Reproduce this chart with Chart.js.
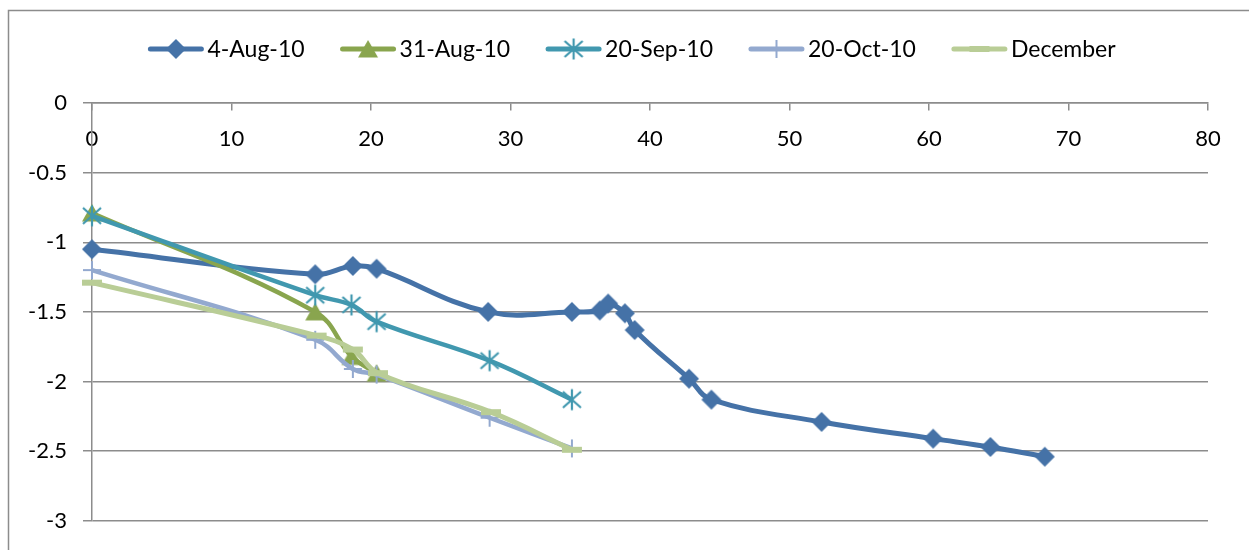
<!DOCTYPE html>
<html>
<head>
<meta charset="utf-8">
<script src="https://cdn.jsdelivr.net/npm/chart.js@4/dist/chart.umd.min.js"></script>
<style>
  html, body { margin: 0; padding: 0; background: #ffffff; }
  #wrap { width: 1249px; height: 550px; position: relative; }
</style>
</head>
<body>
<div id="wrap"><canvas id="c" width="1249" height="550"></canvas></div>
<script>
// Series names
const seriesNames = ['4-Aug-10', '31-Aug-10', '20-Sep-10', '20-Oct-10', 'December'];

// 4-Aug-10
const xAug4 = [0, 16, 18.7, 20.4, 28.4, 34.4, 36.4, 37.0, 38.2, 38.9, 42.8, 44.4, 52.3, 60.3, 64.4, 68.3];
const yAug4 = [-1.05, -1.23, -1.17, -1.19, -1.5, -1.5, -1.49, -1.44, -1.51, -1.63, -1.98, -2.13, -2.29, -2.41, -2.47, -2.54];

// 31-Aug-10
const xAug31 = [0, 16, 18.6, 20.4];
const yAug31 = [-0.79, -1.5, -1.82, -1.94];

// 20-Sep-10
const xSep20 = [0, 16, 18.6, 20.4, 28.5, 34.4];
const ySep20 = [-0.81, -1.38, -1.45, -1.57, -1.85, -2.13];

// 20-Oct-10
const xOct20 = [0, 16, 18.7, 20.4, 28.5, 34.4];
const yOct20 = [-1.2, -1.7, -1.91, -1.95, -2.26, -2.48];

// December
const xDec = [0, 16.1, 18.7, 20.5, 28.6, 34.4];
const yDec = [-1.29, -1.67, -1.77, -1.94, -2.22, -2.49];

// Axis ticks
const xTickValues = [0, 10, 20, 30, 40, 50, 60, 70, 80];
const xTickLabels = ['0', '10', '20', '30', '40', '50', '60', '70', '80'];
const yTickValues = [0, -0.5, -1, -1.5, -2, -2.5, -3];
const yTickLabels = ['0', '-0.5', '-1', '-1.5', '-2', '-2.5', '-3'];

const FONT = 'Lato, "Open Sans", sans-serif';
const colors = ['#4572A7', '#89A54E', '#4198AF', '#93A9CF', '#B9CD96'];
const markerKinds = ['diamond', 'triangle', 'asterisk', 'plus', 'dash'];

// Marker glyphs rendered once into small canvases
function markerCanvas(kind, color) {
  const s = 26;
  const c = document.createElement('canvas');
  c.width = s; c.height = s;
  const g = c.getContext('2d');
  const m = s / 2;
  g.fillStyle = color;
  g.strokeStyle = color;
  g.beginPath();
  if (kind === 'diamond') {
    g.moveTo(m, m - 10); g.lineTo(m + 10, m); g.lineTo(m, m + 10); g.lineTo(m - 10, m);
    g.closePath(); g.fill();
  } else if (kind === 'triangle') {
    g.moveTo(m, m - 9); g.lineTo(m + 10, m + 8.5); g.lineTo(m - 10, m + 8.5);
    g.closePath(); g.fill();
  } else if (kind === 'asterisk') {
    g.lineWidth = 2.2;
    g.moveTo(m, m - 10.5); g.lineTo(m, m + 10.5);
    g.moveTo(m - 9, m - 8); g.lineTo(m + 9, m + 8);
    g.moveTo(m + 9, m - 8); g.lineTo(m - 9, m + 8);
    g.stroke();
  } else if (kind === 'plus') {
    g.lineWidth = 2;
    g.moveTo(m, m - 9); g.lineTo(m, m + 9);
    g.moveTo(m - 9, m); g.lineTo(m + 9, m);
    g.stroke();
  } else if (kind === 'dash') {
    g.fillRect(m - 10, m - 3, 20, 6);
  }
  return c;
}
const markers = markerKinds.map((k, i) => markerCanvas(k, colors[i]));

function toPoints(xs, ys) {
  return xs.map((x, i) => ({ x: x, y: ys[i] }));
}

const seriesX = [xAug4, xAug31, xSep20, xOct20, xDec];
const seriesY = [yAug4, yAug31, ySep20, yOct20, yDec];
const lineWidths = [5, 4.5, 4.5, 4.5, 5];

const datasets = seriesNames.map((name, i) => ({
  label: name,
  data: toPoints(seriesX[i], seriesY[i]),
  borderColor: colors[i],
  backgroundColor: colors[i],
  borderWidth: lineWidths[i],
  pointStyle: markers[i],
  pointRadius: 10,
  pointHoverRadius: 10,
  showLine: true,
  tension: 0.4,
  clip: false,
  order: seriesNames.length - i
}));

// Outer frame and white background
const framePlugin = {
  id: 'frame',
  beforeDraw(chart) {
    const ctx = chart.ctx;
    ctx.save();
    ctx.fillStyle = '#ffffff';
    ctx.fillRect(0, 0, chart.width, chart.height);
    ctx.strokeStyle = '#8c8c8c';
    ctx.lineWidth = 1.5;
    ctx.strokeRect(8.5, 10.5, chart.width + 20, chart.height + 20);
    ctx.restore();
  }
};

// Legend row: line sample with marker, then the series name
const legendPlugin = {
  id: 'lineLegend',
  afterDraw(chart) {
    const ctx = chart.ctx;
    ctx.save();
    ctx.font = '23px ' + FONT;
    const sample = 55, gapText = 4, gapItem = 36;
    const widths = seriesNames.map(n => ctx.measureText(n).width);
    let total = 0;
    widths.forEach((w, i) => { total += sample + gapText + w + (i < widths.length - 1 ? gapItem : 0); });
    let x = 632 - total / 2;
    const y = 49;
    seriesNames.forEach((name, i) => {
      ctx.strokeStyle = colors[i];
      ctx.lineWidth = 5;
      ctx.lineCap = 'round';
      ctx.beginPath();
      ctx.moveTo(x + 2, y);
      ctx.lineTo(x + sample - 2, y);
      ctx.stroke();
      const mk = markers[i];
      ctx.drawImage(mk, x + sample / 2 - mk.width / 2, y - mk.height / 2);
      ctx.fillStyle = '#000000';
      ctx.textBaseline = 'middle';
      ctx.textAlign = 'left';
      ctx.fillText(name, x + sample + gapText, y + 1);
      x += sample + gapText + widths[i] + gapItem;
    });
    ctx.restore();
  }
};

new Chart(document.getElementById('c'), {
  type: 'scatter',
  data: { datasets: datasets },
  options: {
    responsive: false,
    animation: false,
    events: [],
    layout: { padding: { top: 103, right: 41, bottom: 24, left: 0 } },
    plugins: {
      legend: { display: false },
      tooltip: { enabled: false }
    },
    scales: {
      x: {
        type: 'linear',
        position: { y: 0 },
        min: 0,
        max: 80,
        afterBuildTicks(scale) { scale.ticks = xTickValues.map(v => ({ value: v })); },
        ticks: {
          color: '#000000',
          font: { family: FONT, size: 22 },
          padding: 16,
          maxRotation: 0,
          callback(value) { const k = xTickValues.indexOf(value); return k >= 0 ? xTickLabels[k] : ''; }
        },
        grid: { drawOnChartArea: false, drawTicks: true, tickLength: 7, color: '#8c8c8c', lineWidth: 1.5 },
        border: { display: true, color: '#8c8c8c', width: 1.5 }
      },
      y: {
        type: 'linear',
        position: 'left',
        min: -3,
        max: 0,
        afterBuildTicks(scale) { scale.ticks = yTickValues.map(v => ({ value: v })); },
        afterFit(scale) { scale.width = 92; },
        ticks: {
          color: '#000000',
          font: { family: FONT, size: 22 },
          padding: 16,
          callback(value) { const k = yTickValues.indexOf(value); return k >= 0 ? yTickLabels[k] : ''; }
        },
        grid: { color: '#8c8c8c', lineWidth: 1.5, tickLength: 9, drawTicks: true },
        border: { display: true, color: '#8c8c8c', width: 1.5 }
      }
    }
  },
  plugins: [framePlugin, legendPlugin]
});
</script>
</body>
</html>
